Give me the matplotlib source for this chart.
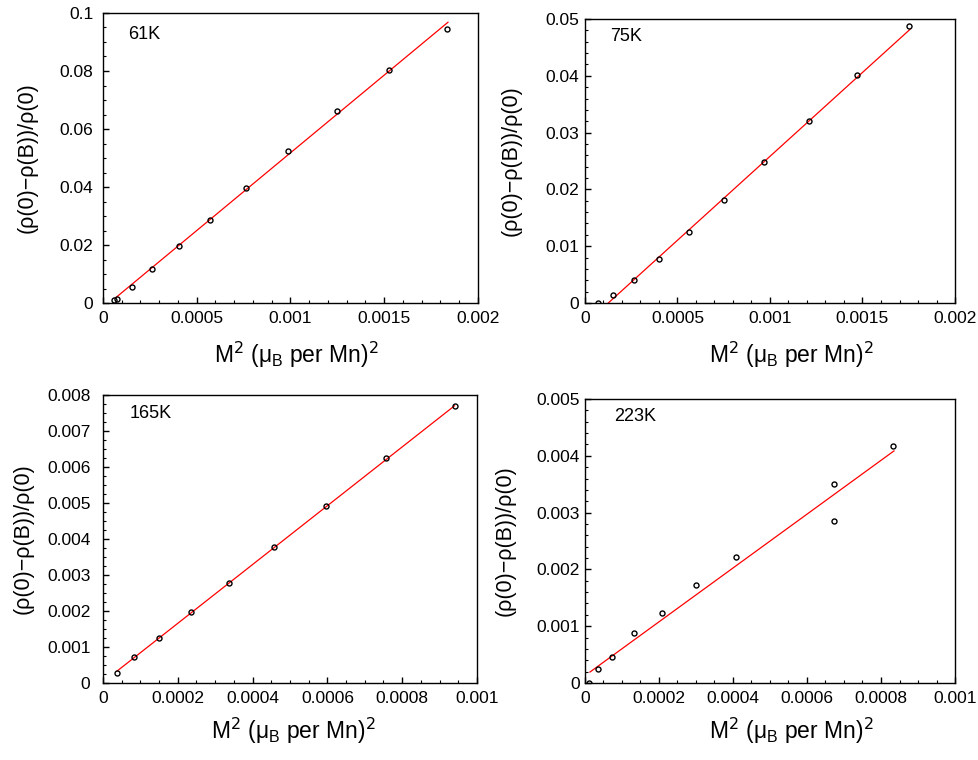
import numpy as np
import matplotlib.pyplot as plt
from matplotlib.ticker import MultipleLocator, FuncFormatter

plt.rcParams['font.family'] = ['Liberation Sans', 'DejaVu Sans']

# Measured points, M^2 (muB per Mn)^2 vs relative magnetoresistance
temps = ['61K', '75K', '165K', '223K']

m2_61 = [0.0000569, 0.0000747, 0.000155, 0.000263, 0.000404, 0.000569,
         0.000764, 0.000988, 0.001246, 0.001524, 0.001833]
mr_61 = [0.00115, 0.0015, 0.0055, 0.0118, 0.0196, 0.0286,
         0.0398, 0.0523, 0.0663, 0.0804, 0.0946]

m2_75 = [0.0000703, 0.000153, 0.000263, 0.0004, 0.000562, 0.00075,
         0.000968, 0.001213, 0.001468, 0.001751]
mr_75 = [0.0, 0.00147, 0.00399, 0.00774, 0.01254, 0.01817,
         0.02474, 0.03212, 0.04021, 0.04871]

m2_165 = [0.0000374, 0.0000836, 0.000149, 0.000234, 0.000336, 0.000457,
          0.000597, 0.000756, 0.00094]
mr_165 = [0.000277, 0.000731, 0.001249, 0.00197, 0.002775, 0.003764,
          0.00493, 0.006261, 0.007695]

m2_223 = [0.0000108, 0.0000351, 0.0000739, 0.000133, 0.000208, 0.000301,
          0.000407, 0.000674, 0.000674, 0.000833]
mr_223 = [0.0, 0.000252, 0.000451, 0.000879, 0.001231, 0.001717,
          0.00221, 0.003511, 0.002855, 0.004174]

# Linear fit lines (end points)
fit_x_61, fit_y_61 = [0.0000658, 0.00184], [0.00172, 0.0968]
fit_x_75, fit_y_75 = [0.000126, 0.001757], [0.0, 0.04818]
fit_x_165, fit_y_165 = [0.0000374, 0.00094], [0.00033, 0.0077]
fit_x_223, fit_y_223 = [0.0000135, 0.000835], [0.000193, 0.004086]

xs = [m2_61, m2_75, m2_165, m2_223]
ys = [mr_61, mr_75, mr_165, mr_223]
fxs = [fit_x_61, fit_x_75, fit_x_165, fit_x_223]
fys = [fit_y_61, fit_y_75, fit_y_165, fit_y_223]

# axis limits and tick spacing per panel
xmax = [0.002, 0.002, 0.001, 0.001]
ymax = [0.1, 0.05, 0.008, 0.005]
xmaj = [0.0005, 0.0005, 0.0002, 0.0002]
xmin_t = [0.0001, 0.0001, 0.00005, 0.00005]
ymaj = [0.02, 0.01, 0.001, 0.001]
ymin_t = [0.005, 0.002, 0.00025, 0.0002]

positions = [
    [0.1052, 0.6013, 0.383, 0.3816],
    [0.5975, 0.6013, 0.378, 0.3737],
    [0.1052, 0.1013, 0.382, 0.379],
    [0.5975, 0.1013, 0.378, 0.3737],
]
ytick_pad = [7, 4, 9, 3.5]
ylab_x = [-0.173, -0.170, -0.186, -0.186]
xlab_xy = [(0.517, -0.128), (0.557, -0.13), (0.51, -0.113), (0.557, -0.115)]
temp_xy = [(0.067, 0.926), (0.069, 0.938), (0.071, 0.934), (0.079, 0.938)]


def fmt(v, pos):
    if abs(v) < 1e-12:
        return '0'
    s = '%.6f' % v
    return s.rstrip('0').rstrip('.')


fig = plt.figure(figsize=(9.79, 7.6), dpi=100)

for i in range(4):
    ax = fig.add_axes(positions[i])
    ax.plot(fxs[i], fys[i], color='red', lw=0.9)
    ax.plot(xs[i], ys[i], 'o', mfc='none', mec='black', ms=3.6, mew=1.0)
    ax.set_xlim(0, xmax[i])
    ax.set_ylim(0, ymax[i])
    ax.xaxis.set_major_locator(MultipleLocator(xmaj[i]))
    ax.xaxis.set_minor_locator(MultipleLocator(xmin_t[i]))
    ax.yaxis.set_major_locator(MultipleLocator(ymaj[i]))
    ax.yaxis.set_minor_locator(MultipleLocator(ymin_t[i]))
    ax.xaxis.set_major_formatter(FuncFormatter(fmt))
    ax.yaxis.set_major_formatter(FuncFormatter(fmt))
    ax.tick_params(which='both', direction='in', top=False, right=False,
                   labelsize=12.5)
    ax.tick_params(axis='x', pad=6)
    ax.tick_params(axis='y', pad=ytick_pad[i])
    ax.tick_params(which='major', length=4, width=1)
    ax.tick_params(which='minor', length=2.5, width=0.8)
    for sp in ax.spines.values():
        sp.set_linewidth(1.0)
    ax.set_xlabel(r'M$^2$ ($\mathregular{\mu_B}$ per Mn)$^2$', fontsize=16.5)
    ax.xaxis.set_label_coords(*xlab_xy[i])
    ax.set_ylabel('(ρ(0)\u2212ρ(B))/ρ(0)', fontsize=15.5)
    ax.yaxis.set_label_coords(ylab_x[i], 0.5)
    ax.text(temp_xy[i][0], temp_xy[i][1], temps[i], transform=ax.transAxes,
            fontsize=13, va='center', ha='left')

plt.savefig('out.png', dpi=100)
